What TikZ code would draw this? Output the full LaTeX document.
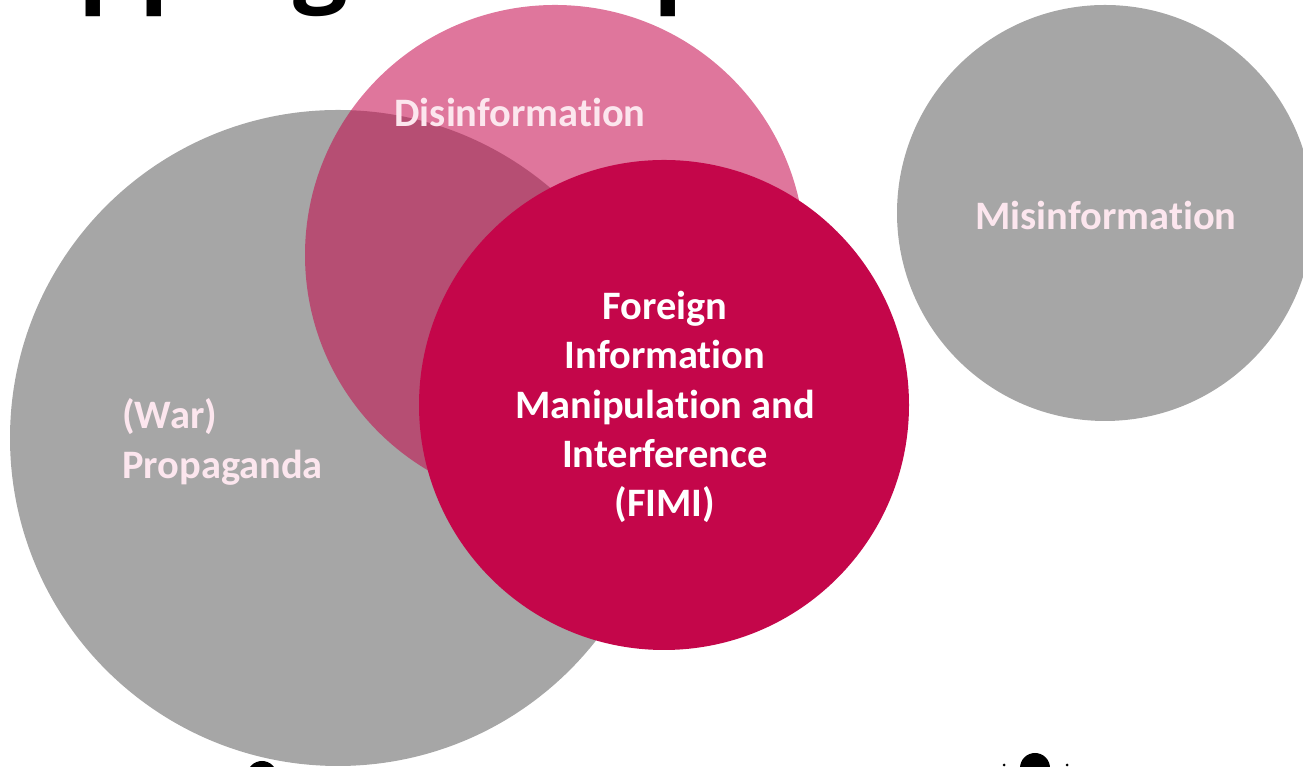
\documentclass[tikz,border=0pt]{standalone}
\usepackage{fontspec}
\setmainfont{Carlito}[Ligatures=NoCommon]
\newfontfamily\titlefont{Open Sans}
\usetikzlibrary{positioning}
\definecolor{fimi}{HTML}{C4064A}
\definecolor{stone}{HTML}{A6A6A6}
\definecolor{blush}{HTML}{FCE6EE}

\begin{document}
\begin{tikzpicture}[x=1cm,y=1cm,
  label/.style={font=\bfseries\fontsize{23}{28}\selectfont,text=blush,inner sep=0pt}]
\useasboundingbox (0,0) rectangle (26.06,15.34);
% heading, only its lower edge shows
\node[anchor=base east,inner sep=0pt,font=\titlefont\bfseries\fontsize{55}{60}\selectfont] (title) at (16.10,15.46) {Overlapping concepts};
% the circles
\fill[stone] (6.76,6.58) circle (6.56);
\fill[fimi,opacity=0.55] (11.10,10.24) circle (5.0);
\fill[fimi] (13.28,7.24) circle (4.9);
\fill[stone] (22.10,11.08) circle (4.16);
% labels
\node[label] (disinfo) at (10.40,13.10) {Disinformation};
\node[label] (misinfo) at (22.12,11.04) {Misinformation};
\node[label,anchor=west,align=left] (propaganda) at (2.44,6.50) {(War)\\Propaganda};
\node[label,text=white,align=center] (fimitext) at (13.30,7.20) {Foreign\\Information\\Manipulation and\\Interference\\(FIMI)};
% heads along the bottom edge
\fill[black] (5.24,-0.18) circle (0.30);
\fill[black] (20.70,-0.02) circle (0.30);
\fill[black] (20.08,0.04) circle (0.03);
\fill[black] (21.34,0.04) circle (0.03);
\end{tikzpicture}
\end{document}
